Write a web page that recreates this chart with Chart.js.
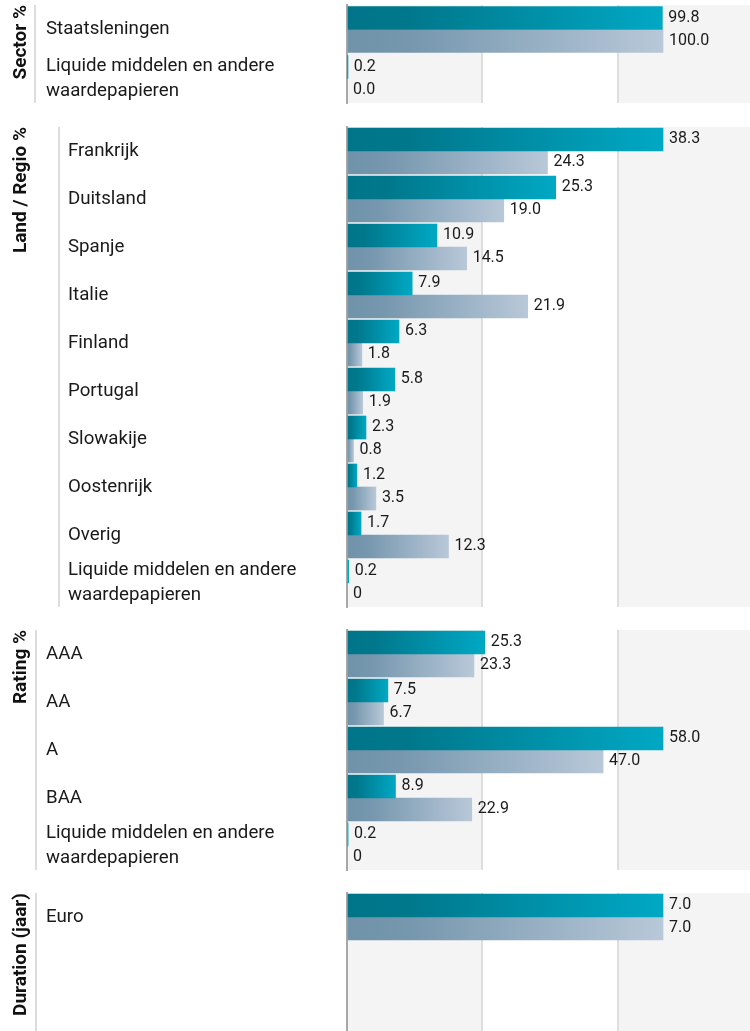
<!DOCTYPE html>
<html lang="nl">
<head>
<meta charset="UTF-8">
<title>Verdeling portefeuille</title>
<script src="https://cdn.jsdelivr.net/npm/chart.js"></script>
<style>
  body { margin: 0; background: #fff; overflow: hidden; }
  .wrap { position: relative; width: 750px; height: 1031px; overflow: hidden; }
  .wrap canvas { position: absolute; left: 0; }
</style>
</head>
<body>
<div class="wrap">
  <canvas id="sector" width="753" height="110" style="top:0"></canvas>
  <canvas id="land" width="753" height="500" style="top:110px"></canvas>
  <canvas id="rating" width="753" height="262" style="top:610px"></canvas>
  <canvas id="duration" width="753" height="162" style="top:875px"></canvas>
</div>

<script>
  const liquide = ['Liquide middelen en andere', 'waardepapieren'];

  const sectorLabels = ['Staatsleningen', liquide];
  const sectorFund = [99.8, 0.2];
  const sectorBench = [100.0, 0.0];

  const landLabels = ['Frankrijk', 'Duitsland', 'Spanje', 'Italie', 'Finland', 'Portugal',
                      'Slowakije', 'Oostenrijk', 'Overig', liquide];
  const landFund = [38.3, 25.3, 10.9, 7.9, 6.3, 5.8, 2.3, 1.2, 1.7, 0.2];
  const landBench = [24.3, 19.0, 14.5, 21.9, 1.8, 1.9, 0.8, 3.5, 12.3, 0];

  const ratingLabels = ['AAA', 'AA', 'A', 'BAA', liquide];
  const ratingFund = [25.3, 7.5, 58.0, 8.9, 0.2];
  const ratingBench = [23.3, 6.7, 47.0, 22.9, 0];

  const durationLabels = ['Euro'];
  const durationFund = [7.0];
  const durationBench = [7.0];

  const fundColors = ['#00758a', '#00788c', '#00a8c4'];
  const benchColors = ['#7093aa', '#7697ae', '#b8c8d8'];

  Chart.defaults.font.family = 'Roboto';

  // gradient over the length of each bar
  function barGradient(c, colors) {
    const chart = c.chart;
    if (!chart.chartArea || c.type !== 'data') return colors[0];
    const xs = chart.scales.x;
    const x0 = xs.getPixelForValue(0);
    const x1 = Math.max(xs.getPixelForValue(c.raw), x0 + 1);
    const g = chart.ctx.createLinearGradient(x0, 0, x1, 0);
    g.addColorStop(0, colors[0]);
    g.addColorStop(0.2, colors[1]);
    g.addColorStop(1, colors[2]);
    return g;
  }

  const panelDecor = {
    id: 'panelDecor',
    beforeDraw(chart, args, o) {
      const {ctx, chartArea: a, scales: {x}} = chart;
      ctx.save();
      // grey / white / grey bands
      const t1 = x.getPixelForValue(x.max / 3);
      const t2 = x.getPixelForValue(2 * x.max / 3);
      ctx.fillStyle = '#f4f4f4';
      ctx.fillRect(a.left, a.top, t1 - a.left, a.height);
      ctx.fillRect(t2, a.top, a.right - t2, a.height);
      // separator between title and labels
      ctx.fillStyle = '#dddddd';
      ctx.fillRect(o.lineX - 1, a.top, 2, a.height);
      // rotated section title
      ctx.translate(21, a.top);
      ctx.rotate(-Math.PI / 2);
      ctx.font = 'bold 19px Roboto';
      ctx.fillStyle = '#111';
      ctx.textAlign = 'right';
      ctx.textBaseline = 'middle';
      ctx.fillText(o.title, 0, 0);
      ctx.restore();
    },
    afterDatasetsDraw(chart, args, o) {
      const ctx = chart.ctx;
      ctx.save();
      ctx.font = '16px Roboto';
      ctx.fillStyle = '#1a1a1a';
      ctx.textAlign = 'left';
      ctx.textBaseline = 'middle';
      chart.data.datasets.forEach((ds, di) => {
        chart.getDatasetMeta(di).data.forEach((bar, i) => {
          const v = ds.data[i];
          if (v === undefined) return;
          const txt = v === 0 ? o.zeroText : v.toFixed(1);
          ctx.fillText(txt, bar.x + 6, bar.y - 0.5);
        });
      });
      ctx.restore();
    }
  };

  function makePanel(id, p) {
    const maxVal = Math.max(...p.fund, ...p.bench);
    const xMax = maxVal * 406 / 316;
    const labels = p.labels.slice();
    while (labels.length < (p.slots || 0)) labels.push('');

    new Chart(document.getElementById(id), {
      type: 'bar',
      data: {
        labels: labels,
        datasets: [
          { data: p.fund, backgroundColor: c => barGradient(c, fundColors) },
          { data: p.bench, backgroundColor: c => barGradient(c, benchColors) }
        ]
      },
      options: {
        indexAxis: 'y',
        responsive: false,
        animation: false,
        layout: { padding: { left: p.labelX, top: p.top, right: 0, bottom: p.bottom } },
        datasets: { bar: { barThickness: 23, borderWidth: 0 } },
        scales: {
          x: {
            min: 0,
            max: xMax,
            ticks: { display: false },
            grid: {
              drawTicks: false,
              lineWidth: 2,
              color: c => (c.index === 0 || c.index === 3) ? 'rgba(0,0,0,0)' : '#dedede'
            },
            border: { display: false },
            afterBuildTicks: s => { s.ticks = [0, 1, 2, 3].map(i => ({ value: xMax * i / 3 })); }
          },
          y: {
            grid: { display: false },
            border: { display: true, color: '#a8a8a8', width: 2 },
            ticks: {
              crossAlign: 'far',
              padding: 0,
              autoSkip: false,
              color: '#1a1a1a',
              font: { size: 18.7, lineHeight: 1.35 }
            },
            afterFit: s => {
              s.width = 347 - p.labelX;
              s.paddingTop = 0;
              s.paddingBottom = 0;
            }
          }
        },
        plugins: {
          legend: { display: false },
          tooltip: { enabled: false },
          panelDecor: { title: p.title, lineX: p.lineX, zeroText: p.zeroText }
        }
      },
      plugins: [panelDecor]
    });
  }

  makePanel('sector', {
    labels: sectorLabels, fund: sectorFund, bench: sectorBench,
    title: 'Sector %', labelX: 46, lineX: 35, top: 5, bottom: 7, zeroText: '0.0'
  });
  makePanel('land', {
    labels: landLabels, fund: landFund, bench: landBench,
    title: 'Land / Regio %', labelX: 68, lineX: 59, top: 17, bottom: 3, zeroText: '0'
  });
  makePanel('rating', {
    labels: ratingLabels, fund: ratingFund, bench: ratingBench,
    title: 'Rating %', labelX: 46, lineX: 36, top: 20, bottom: 2, zeroText: '0'
  });
  makePanel('duration', {
    labels: durationLabels, fund: durationFund, bench: durationBench, slots: 3,
    title: 'Duration (jaar)', labelX: 46, lineX: 36, top: 18, bottom: 0, zeroText: '0'
  });
</script>
</body>
</html>
